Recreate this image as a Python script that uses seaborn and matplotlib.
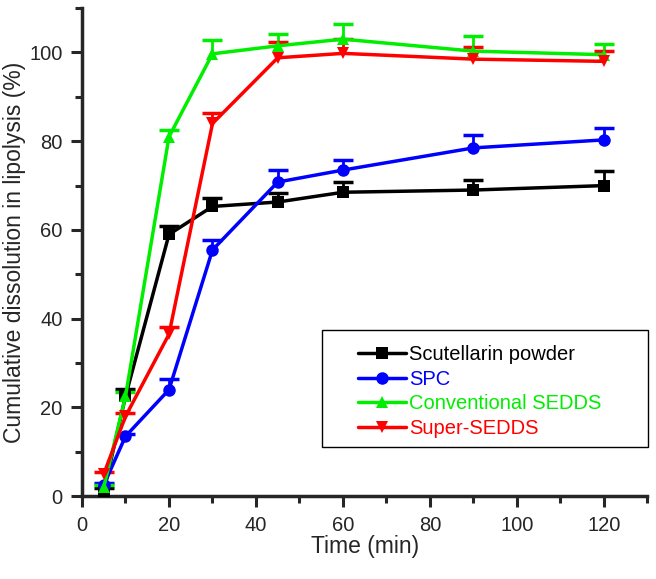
import matplotlib
matplotlib.use("Agg")
import matplotlib.pyplot as plt
import numpy as np
import pandas as pd
import seaborn as sns
from matplotlib.patches import Rectangle
from matplotlib.ticker import MultipleLocator

time_min = [5, 10, 20, 30, 45, 60, 90, 120]
series_names = ["Scutellarin powder", "SPC", "Conventional SEDDS", "Super-SEDDS"]
powder = [1.0, 22.5, 59.0, 65.3, 66.3, 68.5, 69.0, 70.0]
powder_sd = [0.8, 1.6, 2.0, 2.0, 2.0, 2.3, 2.2, 3.2]
spc = [2.5, 13.5, 24.0, 55.5, 70.8, 73.5, 78.5, 80.3]
spc_sd = [0.5, 0.6, 2.5, 2.2, 2.7, 2.3, 3.0, 2.7]
conv = [2.0, 22.5, 81.0, 99.7, 101.5, 103.0, 100.3, 99.5]
conv_sd = [0.6, 1.0, 1.5, 3.0, 2.7, 3.5, 3.5, 2.3]
sup = [5.0, 18.0, 36.5, 84.0, 98.8, 99.8, 98.5, 98.0]
sup_sd = [0.5, 0.8, 1.6, 2.3, 3.5, 3.2, 2.8, 2.3]
colors = ["#000000", "#0000ff", "#00ee00", "#ff0000"]
markers = ["s", "o", "^", "v"]

values = [powder, spc, conv, sup]
sds = [powder_sd, spc_sd, conv_sd, sup_sd]
df = pd.DataFrame({
    "Time": time_min * 4,
    "Value": sum(values, []),
    "Series": [n for n in series_names for _ in time_min],
})

sns.set_style("ticks")
plt.rcParams["font.family"] = ["Liberation Sans", "DejaVu Sans"]

fig = plt.figure(figsize=(6.56, 5.79), dpi=100)
ax = fig.add_axes([0.125, 0.143, 0.862, 0.843])

for name, y, sd, c in zip(series_names, values, sds, colors):
    eb = ax.errorbar(time_min, y, yerr=[np.zeros(len(sd)), sd], fmt="none",
                     ecolor=c, elinewidth=2, capsize=7, capthick=2.5, zorder=3)
    # keep only the upper caps
    for cap in eb[1]:
        if np.allclose(cap.get_ydata(), y):
            cap.set_visible(False)

sns.lineplot(data=df, x="Time", y="Value", hue="Series", style="Series",
             hue_order=series_names, style_order=series_names,
             palette=colors, markers=markers, dashes=False,
             linewidth=2.5, markersize=9, markeredgewidth=0, ax=ax, zorder=4)

ax.set_xlim(0, 130)
ax.set_ylim(0, 110)
ax.xaxis.set_major_locator(MultipleLocator(20))
ax.xaxis.set_minor_locator(MultipleLocator(10))
ax.yaxis.set_major_locator(MultipleLocator(20))
ax.yaxis.set_minor_locator(MultipleLocator(10))
ax.tick_params(which="major", length=8, width=2.2, labelsize=14.5, direction="out", pad=6)
ax.tick_params(which="minor", length=5, width=2.2, direction="out")
for s in ["top", "right"]:
    ax.spines[s].set_visible(False)
for s in ["left", "bottom"]:
    ax.spines[s].set_linewidth(2.5)
ax.set_xlabel("Time (min)", fontsize=16.5, labelpad=0)
ax.set_ylabel("Cumulative dissolution in lipolysis (%)", fontsize=16.5, labelpad=2)

leg = ax.legend(loc="upper left", bbox_to_anchor=(0.545, 0.404), bbox_transform=fig.transFigure,
                fontsize=14.5, frameon=False, borderpad=0, borderaxespad=0,
                handlelength=2.4, handletextpad=0.15, labelspacing=0.28)
for txt, c in zip(leg.get_texts(), colors):
    txt.set_color(c)
fig.add_artist(Rectangle((0.491, 0.228), 0.497, 0.202, transform=fig.transFigure,
                         fill=False, edgecolor="black", linewidth=1.0, zorder=5))

fig.savefig("out.png", dpi=100)
